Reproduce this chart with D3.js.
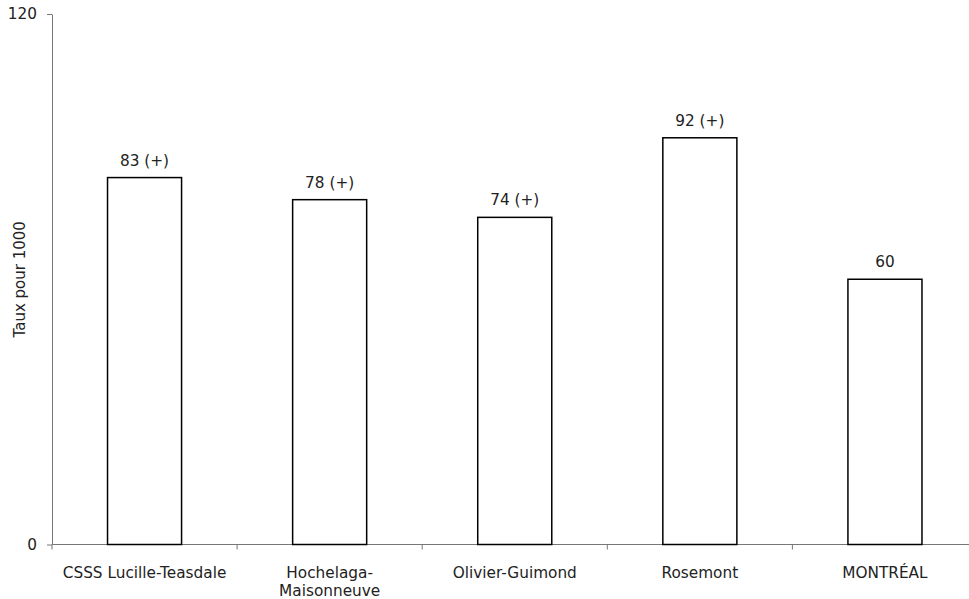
<!DOCTYPE html>
<html>
<head>
<meta charset="utf-8">
<script src="https://cdn.jsdelivr.net/npm/d3@7"></script>
<style>
  html, body { margin: 0; padding: 0; background: #fff; }
  svg { display: block; }
  text { font-family: "DejaVu Sans", Verdana, sans-serif; fill: #222; }
</style>
</head>
<body>
<svg id="chart" width="969" height="599"></svg>
<script>
// Territories and rates per 1000
const categories = [
  ["CSSS Lucille-Teasdale"],
  ["Hochelaga-", "Maisonneuve"],
  ["Olivier-Guimond"],
  ["Rosemont"],
  ["MONTRÉAL"]
];
const values = [83, 78, 74, 92, 60];
const valueLabels = ["83 (+)", "78 (+)", "74 (+)", "92 (+)", "60"];
const yTicks = [0, 120];
const yTitle = "Taux pour 1000";

const svg = d3.select("#chart");
const mLeft = 52, mRight = 977.5, mTop = 14, mBottom = 544.5;
const fontSize = 15.3;

const keys = categories.map((c, i) => i);
const x = d3.scaleBand().domain(keys).range([mLeft, mRight]).padding(0);
const y = d3.scaleLinear().domain([0, 120]).range([mBottom, mTop]);
const barW = x.bandwidth() * 0.4;

// Y axis
const yAxis = svg.append("g")
  .attr("transform", `translate(${mLeft},0)`)
  .call(d3.axisLeft(y).tickValues(yTicks).tickSize(5).tickPadding(10).tickSizeOuter(0));
yAxis.select(".domain").attr("stroke", "#777");
yAxis.selectAll(".tick line").attr("stroke", "#777");
yAxis.selectAll(".tick text").attr("font-size", fontSize).attr("font-family", '"DejaVu Sans", Verdana, sans-serif').attr("fill", "#222");

// X axis with ticks at band boundaries
const xAxis = svg.append("g").attr("transform", `translate(0,${mBottom})`);
xAxis.append("line")
  .attr("x1", mLeft).attr("x2", mRight)
  .attr("stroke", "#777");
xAxis.selectAll("line.bt")
  .data(keys.concat([keys.length]))
  .join("line")
  .attr("class", "bt")
  .attr("x1", i => mLeft + i * x.step())
  .attr("x2", i => mLeft + i * x.step())
  .attr("y1", 0).attr("y2", 5)
  .attr("stroke", "#777");

const xl = xAxis.selectAll("text.cat")
  .data(categories)
  .join("text")
  .attr("class", "cat")
  .attr("text-anchor", "middle")
  .attr("font-size", fontSize)
  .attr("transform", (d, i) => `translate(${x(i) + x.bandwidth() / 2},${33.5})`);
xl.selectAll("tspan")
  .data(d => d)
  .join("tspan")
  .attr("x", 0)
  .attr("dy", (d, j) => j === 0 ? 0 : 18)
  .text(d => d);

// Bars (drawn over the baseline)
svg.append("g").selectAll("rect")
  .data(values)
  .join("rect")
  .attr("x", (d, i) => x(i) + (x.bandwidth() - barW) / 2)
  .attr("y", d => y(d))
  .attr("width", barW)
  .attr("height", d => y(0) - y(d))
  .attr("fill", "#fff")
  .attr("stroke", "#000")
  .attr("stroke-width", 1.5);

// Value labels
svg.append("g").selectAll("text")
  .data(values)
  .join("text")
  .attr("x", (d, i) => x(i) + x.bandwidth() / 2)
  .attr("y", d => y(d) - 12)
  .attr("text-anchor", "middle")
  .attr("font-size", fontSize)
  .text((d, i) => valueLabels[i]);

// Y title
svg.append("text")
  .attr("transform", `translate(25,${(mTop + mBottom) / 2}) rotate(-90)`)
  .attr("text-anchor", "middle")
  .attr("font-size", 15)
  .text(yTitle);
</script>
</body>
</html>
